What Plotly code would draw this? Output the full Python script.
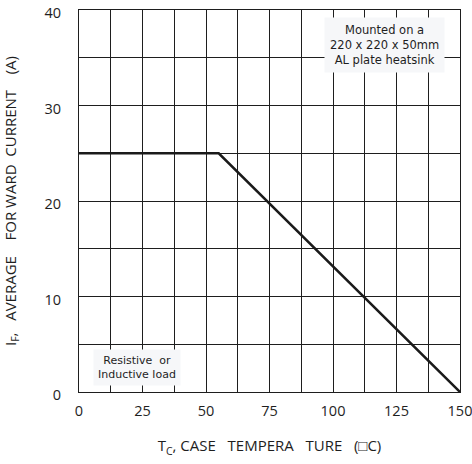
import plotly.graph_objects as go

# Derating curve data
temp_c = [0, 55, 150]
current_a = [25, 25, 0]

x_ticks = [0, 25, 50, 75, 100, 125, 150]
y_ticks = [0, 10, 20, 30, 40]

NB = "\u00a0"
font_family = "Open Sans, Noto Sans, sans-serif"
txt_col = "#1e1e1e"
grid_col = "#1e1e1e"

fig = go.Figure()
fig.add_trace(go.Scatter(
    x=temp_c, y=current_a, mode="lines",
    line=dict(color="#1a1a1a", width=2.5),
    showlegend=False, hoverinfo="skip",
))

fig.update_xaxes(
    range=[0, 150], tickvals=x_ticks, ticktext=[str(v) for v in x_ticks],
    showgrid=True, gridcolor=grid_col, gridwidth=1,
    minor=dict(dtick=12.5, tick0=0, showgrid=True, gridcolor=grid_col, gridwidth=1),
    showline=True, linecolor=grid_col, linewidth=1, mirror=True,
    zeroline=False, ticks="", ticklabelstandoff=6, automargin=False,
    ticklabeloverflow="allow",
    tickfont=dict(size=14.5, color=txt_col, family=font_family),
    title=dict(
        text="T<sub>C</sub>, CASE" + NB * 3 + "TEMPERA" + NB * 3 + "TURE" + NB * 3 + "(\u25a1C)",
        font=dict(size=15, color=txt_col, family=font_family), standoff=21,
    ),
)
fig.update_yaxes(
    range=[0, 40], tickvals=y_ticks, ticktext=[str(v) for v in y_ticks],
    showgrid=True, gridcolor=grid_col, gridwidth=1,
    minor=dict(dtick=5, tick0=0, showgrid=True, gridcolor=grid_col, gridwidth=1),
    showline=True, linecolor=grid_col, linewidth=1, mirror=True,
    zeroline=False, ticks="", ticklabelstandoff=14, ticklabelshift=3,
    automargin=False, ticklabeloverflow="allow",
    tickfont=dict(size=14.5, color=txt_col, family=font_family),
    title=dict(
        text="I<sub>F</sub>," + NB * 3 + "AVERAGE" + NB * 4 + "FOR WARD" + NB * 2 + "CURRENT" + NB * 4 + "(A)",
        font=dict(size=15, color=txt_col, family=font_family), standoff=24,
    ),
)

fig.add_annotation(
    x=0.803, y=0.981, xref="paper", yref="paper", xanchor="center", yanchor="top",
    text="Mounted on a<br>220 x 220 x 50mm<br>AL plate heatsink",
    showarrow=False, align="center",
    font=dict(size=11.5, color=txt_col, family="DejaVu Sans, sans-serif"),
    bgcolor="#f6f7f9", borderpad=5,
)
fig.add_annotation(
    x=0.1535, y=0.0157, xref="paper", yref="paper", xanchor="center", yanchor="bottom",
    text="Resistive" + NB * 2 + "or<br>Inductive load",
    showarrow=False, align="center",
    font=dict(size=11, color=txt_col, family="DejaVu Sans, sans-serif"),
    bgcolor="#f6f7f9", borderpad=4,
)

fig.update_layout(
    width=472, height=464,
    margin=dict(l=79, r=12, t=10, b=72),
    paper_bgcolor="white", plot_bgcolor="white",
)

# Remove the default 8px page margin so the figure fills the window exactly.
fig.write_html(
    "out.html",
    config={"displayModeBar": False},
    post_script="document.body.style.margin='0';",
)
